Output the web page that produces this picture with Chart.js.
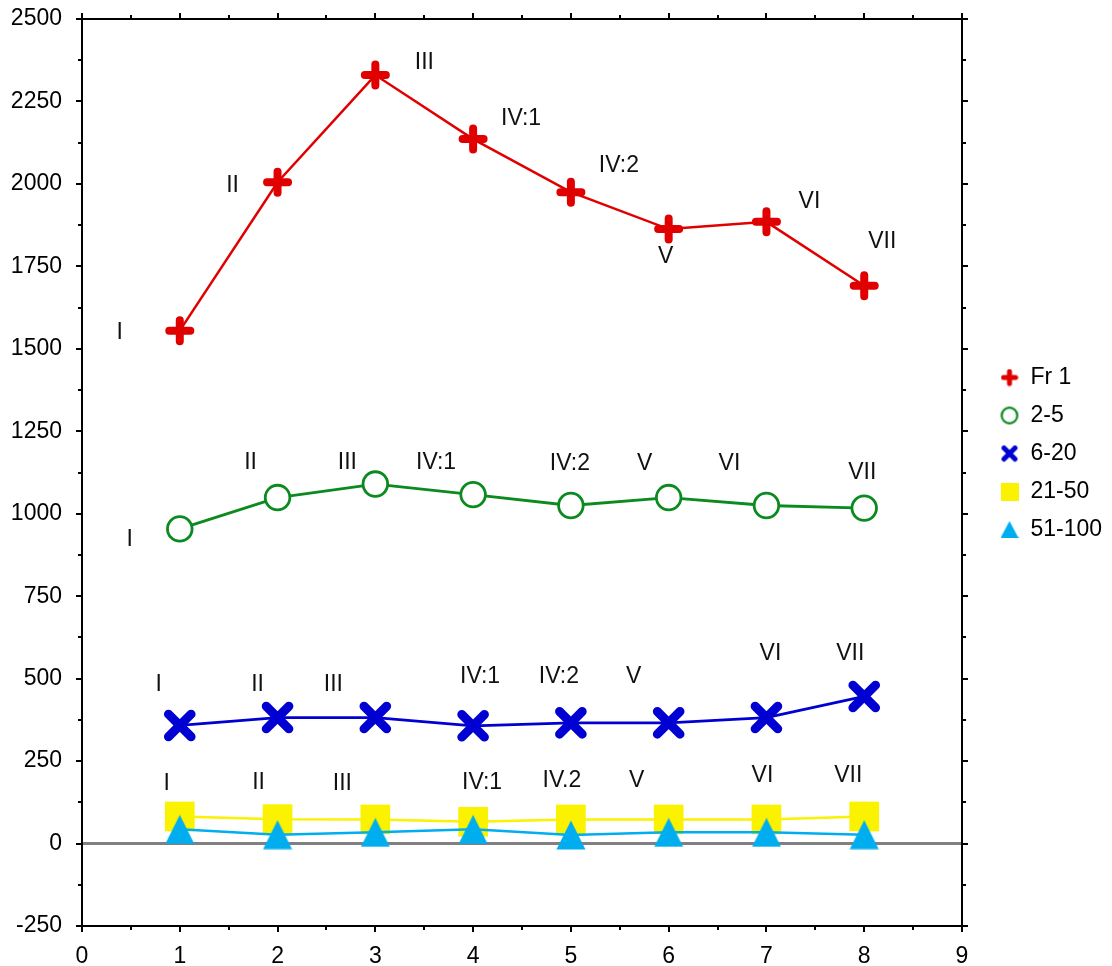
<!DOCTYPE html>
<html>
<head>
<meta charset="utf-8">
<style>html,body{margin:0;padding:0;background:#fff}canvas{display:block}</style>
<script src="https://cdn.jsdelivr.net/npm/chart.js@4.4.1/dist/chart.umd.min.js"></script>
</head>
<body>
<canvas id="c" width="1112" height="966"></canvas>
<script>
// ---------- data ----------
const xValues = [1, 2, 3, 4, 5, 6, 7, 8];
const seriesNames = ['Fr 1', '2-5', '6-20', '21-50', '51-100'];
const fr1    = [1555, 2005, 2330, 2136, 1975, 1863, 1885, 1691];
const s2_5   = [954, 1049, 1090, 1058, 1025, 1049, 1025, 1017];
const s6_20  = [358, 382, 382, 357, 366, 366, 382, 446];
const s21_50 = [82, 74, 73, 66, 73, 73, 73, 82];
const s51_100 = [43, 27, 34, 43, 26, 34, 34, 27];
const stageLabels   = ['I', 'II', 'III', 'IV:1', 'IV:2', 'V', 'VI', 'VII'];
const stageLabels21 = ['I', 'II', 'III', 'IV:1', 'IV.2', 'V', 'VI', 'VII'];
const xTicks = [0, 1, 2, 3, 4, 5, 6, 7, 8, 9];
const yTicks = [-250, 0, 250, 500, 750, 1000, 1250, 1500, 1750, 2000, 2250, 2500];

// ---------- styles ----------
const COL = { red: '#e00000', green: '#0b8a1f', blue: '#0000d2', yellow: '#fbf200', cyan: '#00aeef', gray: '#808080', text: '#111' };
const FONT = '"Liberation Sans", Arial, sans-serif';
const FS = 23;
Chart.defaults.font.family = FONT;
Chart.defaults.font.size = FS;
Chart.defaults.color = '#000';

// label offsets (pixels, relative to the point)
const labelOffsets = {
  fr1:  [[-60, 2], [-45, 3], [49, -12], [48, -20], [48, -26], [-3, 28], [43, -20], [18, -44]],
  s2_5: [[-50, 11], [-27, -35], [-28, -21], [-37, -32], [-1, -42], [-24, -34], [-37, -42], [-2, -35]],
  s6_20:[[-21, -41], [-20, -33], [-42, -33], [7, -49], [-12, -46], [-35, -46], [4, -64], [-14, -43]],
  s21_50:[[-13, -33], [-19, -36], [-33, -36], [9, -39], [-9, -39], [-32, -39], [-4, -44], [-16, -41]]
};

function mk(w, h, fn) { const c = document.createElement('canvas'); c.width = w; c.height = h; fn(c.getContext('2d'), w, h); return c; }
const triPoint = mk(30, 30, (g, w, h) => { g.fillStyle = COL.cyan; g.beginPath(); g.moveTo(w / 2, 0.5); g.lineTo(w - 0.5, h - 0.5); g.lineTo(0.5, h - 0.5); g.closePath(); g.fill(); });
const legendMarkers = [
  mk(18, 18, (g) => { g.strokeStyle = COL.red; g.lineWidth = 5; g.lineCap = 'round'; g.beginPath(); g.moveTo(3, 9); g.lineTo(15, 9); g.moveTo(9, 3); g.lineTo(9, 15); g.stroke(); }),
  mk(20, 20, (g) => { g.fillStyle = '#fff'; g.strokeStyle = COL.green; g.lineWidth = 2.2; g.beginPath(); g.arc(10, 10, 7.8, 0, Math.PI * 2); g.fill(); g.stroke(); }),
  mk(18, 18, (g) => { g.strokeStyle = COL.blue; g.lineWidth = 5; g.lineCap = 'round'; g.beginPath(); g.moveTo(3.5, 3.5); g.lineTo(14.5, 14.5); g.moveTo(14.5, 3.5); g.lineTo(3.5, 14.5); g.stroke(); }),
  mk(18, 18, (g) => { g.fillStyle = COL.yellow; g.fillRect(0, 0, 18, 18); }),
  mk(18, 17, (g, w, h) => { g.fillStyle = COL.cyan; g.beginPath(); g.moveTo(w / 2, 0); g.lineTo(w, h); g.lineTo(0, h); g.closePath(); g.fill(); })
];
const blankMarker = mk(1, 1, () => {});

const pts = (arr) => xValues.map((x, i) => ({ x, y: arr[i] }));

// ---------- plugins ----------
const roundCaps = {
  id: 'roundCaps',
  beforeDatasetsDraw(chart) { chart.ctx.lineCap = 'round'; chart.ctx.lineJoin = 'round'; },
  afterDatasetsDraw(chart) { chart.ctx.lineCap = 'butt'; chart.ctx.lineJoin = 'miter'; }
};

const pointText = {
  id: 'pointText',
  afterDatasetsDraw(chart, args, opts) {
    const ctx = chart.ctx;
    ctx.save();
    ctx.font = FS + 'px ' + FONT;
    ctx.fillStyle = COL.text;
    ctx.textAlign = 'center';
    ctx.textBaseline = 'middle';
    opts.sets.forEach((s) => {
      const meta = chart.getDatasetMeta(s.dataset);
      meta.data.forEach((pt, i) => {
        const [dx, dy] = s.offsets[i];
        ctx.fillText(s.texts[i], pt.x + dx, pt.y + dy);
      });
    });
    ctx.restore();
  }
};

const frame = {
  id: 'frame',
  afterDraw(chart) {
    const { ctx, chartArea: a, scales: { x, y } } = chart;
    ctx.save();
    ctx.strokeStyle = '#000';
    ctx.lineWidth = 2;
    ctx.lineCap = 'butt';
    ctx.strokeRect(a.left, a.top, a.right - a.left, a.bottom - a.top);
    ctx.beginPath();
    y.ticks.forEach((t) => {
      const p = Math.round(y.getPixelForValue(t.value));
      const len = yTicks.includes(t.value) ? 6 : 4;
      ctx.moveTo(a.left - len, p); ctx.lineTo(a.left, p);
      ctx.moveTo(a.right, p); ctx.lineTo(a.right + len, p);
    });
    x.ticks.forEach((t) => {
      const p = Math.round(x.getPixelForValue(t.value));
      const len = xTicks.includes(t.value) ? 6 : 4;
      ctx.moveTo(p, a.top - len); ctx.lineTo(p, a.top);
      ctx.moveTo(p, a.bottom); ctx.lineTo(p, a.bottom + len);
    });
    ctx.stroke();
    ctx.restore();
  }
};

const baseGen = Chart.defaults.plugins.legend.labels.generateLabels;

new Chart(document.getElementById('c'), {
  type: 'line',
  data: {
    datasets: [
      { label: seriesNames[0], data: pts(fr1), borderColor: COL.red, borderWidth: 2.5, borderCapStyle: 'round',
        pointStyle: 'cross', pointRadius: 10.5, pointHoverRadius: 10.5, pointBorderWidth: 8, pointHoverBorderWidth: 8,
        pointBorderColor: COL.red, pointBackgroundColor: COL.red },
      { label: seriesNames[1], data: pts(s2_5), borderColor: COL.green, borderWidth: 2.8,
        pointStyle: 'circle', pointRadius: 12.3, pointHoverRadius: 12.3, pointBorderWidth: 2.8, pointHoverBorderWidth: 2.8,
        pointBorderColor: COL.green, pointBackgroundColor: '#fff' },
      { label: seriesNames[2], data: pts(s6_20), borderColor: COL.blue, borderWidth: 2.8,
        pointStyle: 'crossRot', pointRadius: 16, pointHoverRadius: 16, pointBorderWidth: 9, pointHoverBorderWidth: 9,
        pointBorderColor: COL.blue, pointBackgroundColor: COL.blue },
      { label: seriesNames[3], data: pts(s21_50), borderColor: COL.yellow, borderWidth: 2.5,
        pointStyle: 'rect', pointRadius: 21, pointHoverRadius: 21, pointBorderWidth: 0, pointHoverBorderWidth: 0,
        pointBorderColor: COL.yellow, pointBackgroundColor: COL.yellow },
      { label: seriesNames[4], data: pts(s51_100), borderColor: COL.cyan, borderWidth: 2.5, order: -1,
        pointStyle: triPoint, pointRadius: 15, pointHoverRadius: 15, pointBorderWidth: 0,
        pointBorderColor: COL.cyan, pointBackgroundColor: COL.cyan }
    ]
  },
  options: {
    responsive: false,
    devicePixelRatio: 1,
    animation: false,
    events: [],
    layout: { autoPadding: false, padding: { top: 19, left: 0, right: 0, bottom: 0 } },
    scales: {
      x: {
        type: 'linear', min: 0, max: 9,
        afterFit(s) { s.height = 40; s.paddingLeft = 0; s.paddingRight = 0; },
        border: { display: false },
        grid: { display: false, drawTicks: false },
        ticks: { stepSize: 0.5, autoSkip: false, maxRotation: 0, minRotation: 0, padding: 17, color: '#000', font: { size: FS },
          callback: (v) => (xTicks.includes(v) ? String(v) : '') }
      },
      y: {
        type: 'linear', min: -250, max: 2500,
        afterFit(s) { s.width = 82; s.paddingTop = 0; s.paddingBottom = 0; },
        border: { display: false },
        grid: {
          drawTicks: false,
          color: (c) => (c.tick && c.tick.value === 0 ? COL.gray : 'rgba(0,0,0,0)'),
          lineWidth: (c) => (c.tick && c.tick.value === 0 ? 3 : 0)
        },
        ticks: { stepSize: 125, autoSkip: false, padding: 20, color: '#000', font: { size: FS },
          callback: (v) => (yTicks.includes(v) ? String(v) : '') }
      },
      y2: {
        type: 'linear', position: 'right', display: true,
        afterFit(s) { s.width = 23; s.paddingTop = 0; s.paddingBottom = 0; },
        border: { display: false },
        grid: { display: false, drawTicks: false },
        ticks: { display: false }
      }
    },
    plugins: {
      tooltip: { enabled: false },
      legend: {
        position: 'right',
        fullSize: false,
        maxWidth: 127,
        labels: {
          usePointStyle: true, boxWidth: 19, boxHeight: 13, padding: 15, color: '#000', font: { size: FS },
          generateLabels(chart) {
            const items = baseGen(chart).sort((a, b) => a.datasetIndex - b.datasetIndex);
            items.forEach((it) => { it.pointStyle = legendMarkers[it.datasetIndex]; });
            items.push({ text: '\u00a0'.repeat(40), fillStyle: 'rgba(0,0,0,0)', strokeStyle: 'rgba(0,0,0,0)', lineWidth: 0, pointStyle: blankMarker, hidden: false });
            return items;
          }
        }
      },
      pointText: {
        sets: [
          { dataset: 0, texts: stageLabels, offsets: labelOffsets.fr1 },
          { dataset: 1, texts: stageLabels, offsets: labelOffsets.s2_5 },
          { dataset: 2, texts: stageLabels, offsets: labelOffsets.s6_20 },
          { dataset: 3, texts: stageLabels21, offsets: labelOffsets.s21_50 }
        ]
      }
    }
  },
  plugins: [roundCaps, pointText, frame]
});
</script>
</body>
</html>
